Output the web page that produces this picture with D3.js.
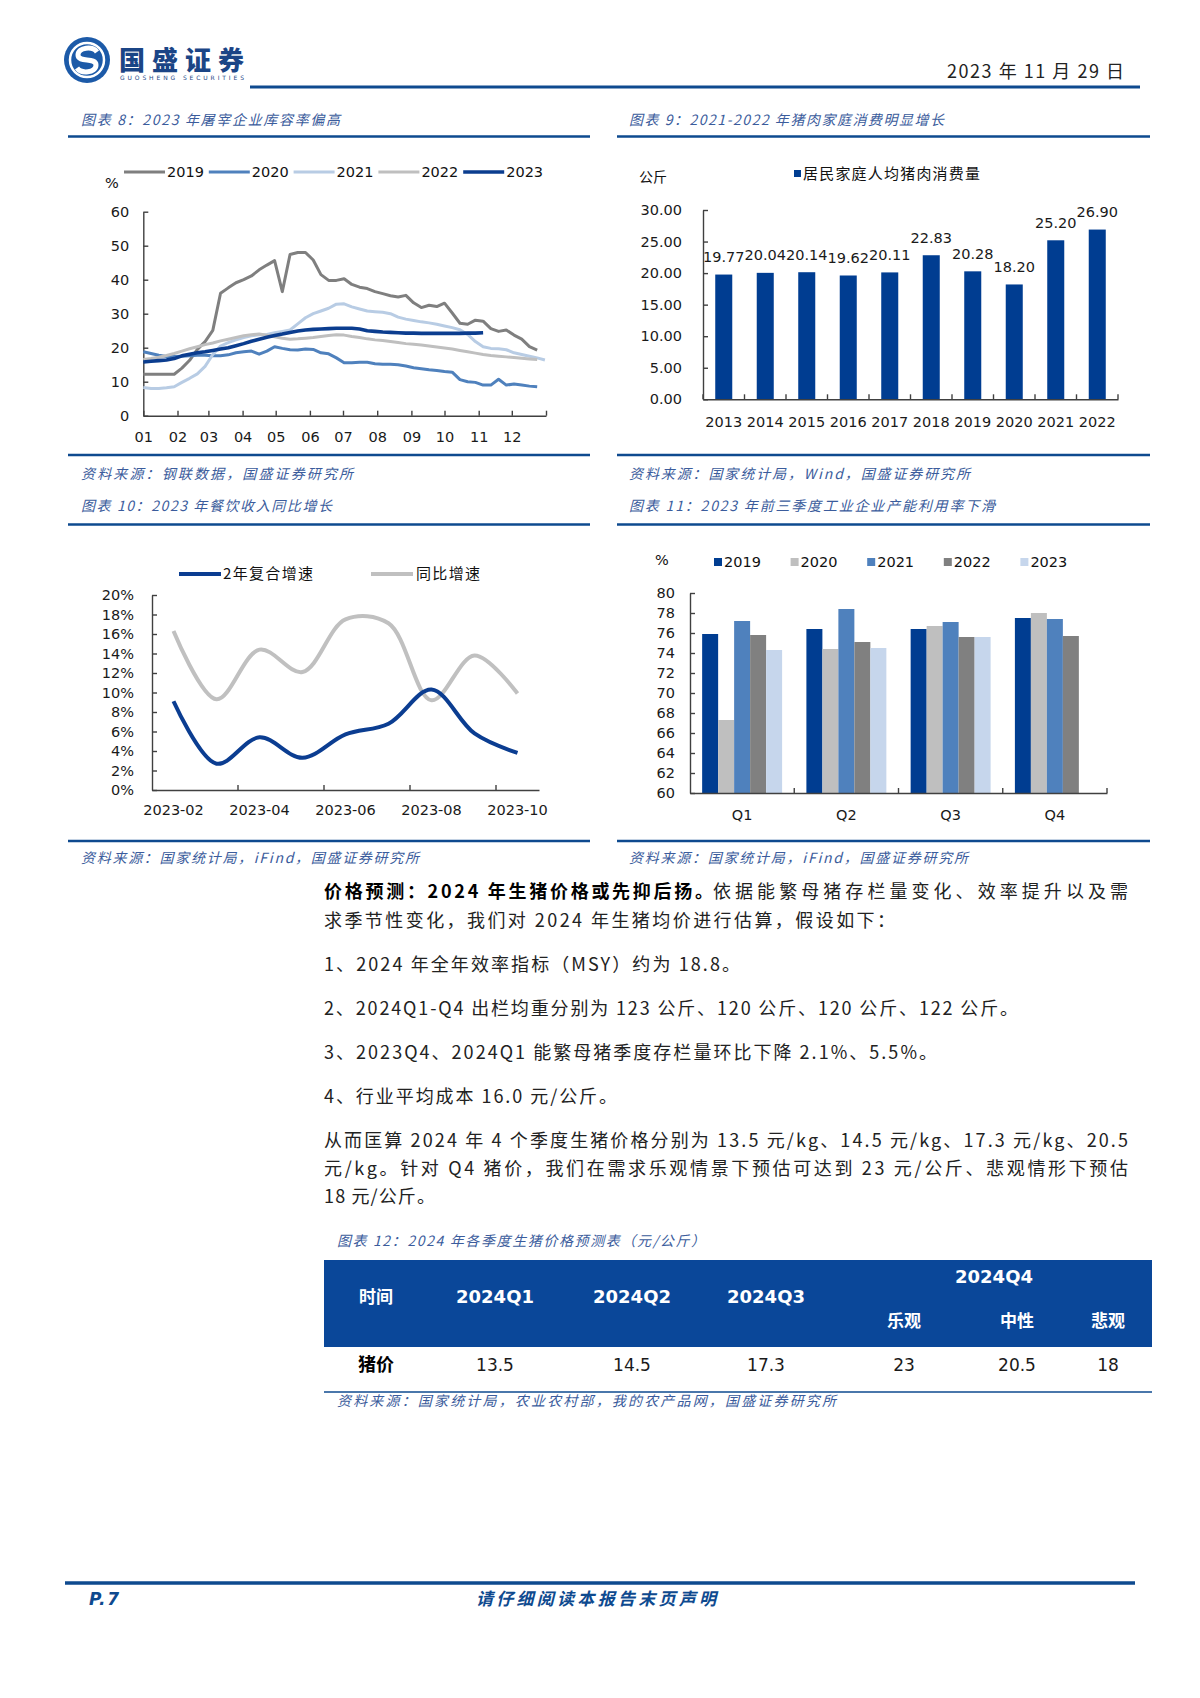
<!DOCTYPE html>
<html lang="zh">
<head>
<meta charset="UTF-8">
<title>国盛证券 - 2024 年生猪价格预测</title>
<script src="https://cdn.jsdelivr.net/npm/d3@7"></script>
<style>
  body { margin: 0; background: #fff; }
</style>
</head>
<body>
<svg id="page" width="1200" height="1698"></svg>
<script>
// ---------- data ----------
// 图表 8: weekly slaughter-house storage rate (%), one value per week from Jan 1
const storageYears = ["2019", "2020", "2021", "2022", "2023"];
const storage2019 = [12.2,12.2,12.2,12.2,12.2,14.0,16.3,19.5,21.8,25.1,36.0,37.6,39.1,40.0,41.1,42.9,44.3,45.6,36.5,47.4,48.0,48.0,45.8,41.5,39.8,39.8,40.3,38.6,37.8,37.4,36.5,35.9,35.3,34.9,35.4,33.2,31.8,32.5,32.1,33.1,30.2,27.2,26.9,28.1,27.8,25.6,24.8,25.2,23.7,22.5,20.3,19.3];
const storage2020 = [18.8,18.3,17.8,17.4,17.4,17.5,17.6,17.8,17.8,17.6,17.6,17.9,18.5,18.8,19.0,18.1,19.0,20.3,19.8,19.4,19.3,19.6,19.5,18.5,18.2,17.0,15.6,15.6,15.7,15.7,15.3,15.1,15.1,15.0,14.6,14.1,13.8,13.5,13.3,13.0,12.8,10.6,10.0,9.8,9.0,9.0,10.7,9.0,9.3,9.0,8.7,8.5];
const storage2021 = [8.3,8.0,8.0,8.2,8.5,9.8,11.0,12.3,14.5,18.0,20.5,21.5,22.3,23.0,23.5,23.8,23.9,24.4,24.8,25.2,27.0,28.8,30.0,30.8,31.6,32.8,32.9,32.0,31.4,30.8,30.6,30.4,30.0,29.0,28.4,28.0,27.6,27.3,26.9,26.4,25.9,25.3,23.9,21.8,20.3,19.8,19.7,19.4,18.5,18.0,17.5,17.0,16.4];
const storage2022 = [16.5,16.8,17.2,17.7,18.3,19.0,19.7,20.3,20.9,21.4,22.0,22.5,23.0,23.5,23.8,24.0,23.7,23.2,22.8,22.5,22.6,22.8,23.0,23.3,23.6,23.8,23.7,23.3,23.0,22.6,22.3,22.1,21.8,21.5,21.2,21.0,20.8,20.5,20.2,19.9,19.6,19.2,18.8,18.4,18.0,17.7,17.5,17.3,17.1,16.9,16.7,16.5];
const storage2023 = [15.8,16.0,16.2,16.4,16.8,17.6,18.1,18.5,18.8,19.2,19.6,20.0,20.6,21.2,21.9,22.5,23.1,23.6,24.0,24.5,24.9,25.2,25.4,25.5,25.6,25.7,25.7,25.7,25.5,25.0,24.8,24.6,24.5,24.4,24.3,24.3,24.2,24.2,24.2,24.2,24.2,24.2,24.3,24.3,24.4];

// 图表 9: household pork consumption per capita (kg)
const porkYears = ["2013","2014","2015","2016","2017","2018","2019","2020","2021","2022"];
const porkConsumption = [19.77, 20.04, 20.14, 19.62, 20.11, 22.83, 20.28, 18.20, 25.20, 26.90];

// 图表 10: catering revenue growth (%)
const cateringMonths = ["2023-02","2023-03","2023-04","2023-05","2023-06","2023-07","2023-08","2023-09","2023-10"];
const cagr2y = [9.1, 2.7, 5.4, 3.3, 5.7, 6.8, 10.3, 5.8, 3.8];
const yoy = [16.3, 9.3, 14.4, 12.1, 17.5, 17.1, 9.2, 13.8, 9.9];

// 图表 11: industrial capacity utilisation (%)
const quarters = ["Q1", "Q2", "Q3", "Q4"];
const utilYears = ["2019", "2020", "2021", "2022", "2023"];
const util2019 = [75.9, 76.4, 76.4, 77.5];
const util2020 = [67.3, 74.4, 76.7, 78.0];
const util2021 = [77.2, 78.4, 77.1, 77.4];
const util2022 = [75.8, 75.1, 75.6, 75.7];
const util2023 = [74.3, 74.5, 75.6, null];

// 图表 12: price forecast table
const tableHead = ["时间", "2024Q1", "2024Q2", "2024Q3", "2024Q4"];
const q4Cases = ["乐观", "中性", "悲观"];
const tableRow = ["猪价", "13.5", "14.5", "17.3", "23", "20.5", "18"];

// ---------- helpers ----------
const svg = d3.select("#page");
const BLUE = "#0e4a8f";
const CAP = "#3b5c9c";
const AXIS = "#404040";
const SANS = '"DejaVu Sans", sans-serif';
const CJK = '"Noto Sans CJK SC", sans-serif';
const NUM = 14.5; // chart number size

function label(g, x, y, s, o = {}) {
  const t = g.append("text").attr("x", x).attr("y", y).text(s)
    .attr("font-family", o.family || CJK)
    .attr("font-size", o.size || 14)
    .attr("fill", o.fill || "#111");
  if (o.anchor) t.attr("text-anchor", o.anchor);
  if (o.weight) t.attr("font-weight", o.weight);
  if (o.italic) t.attr("font-style", "italic");
  if (o.len) t.attr("textLength", o.len).attr("lengthAdjust", o.adjust || "spacing");
  return t;
}

function rule(x1, x2, y, w = 2.5, c = BLUE) {
  svg.append("line").attr("x1", x1).attr("x2", x2).attr("y1", y).attr("y2", y)
    .attr("stroke", c).attr("stroke-width", w);
}

function styleAxis(g) {
  g.attr("font-family", SANS).attr("font-size", NUM);
  g.select(".domain").attr("stroke", AXIS).attr("stroke-width", 1.4);
  g.selectAll(".tick line").attr("stroke", AXIS).attr("stroke-width", 1.4);
  g.selectAll(".tick text").attr("fill", "#1a1a1a");
}

// ---------- header ----------
const logo = svg.append("g").attr("transform", "translate(87,60)");
logo.append("circle").attr("r", 23).attr("fill", "#1c5aa8");
logo.append("circle").attr("r", 17).attr("fill", "none").attr("stroke", "#fff").attr("stroke-width", 2.5);
logo.append("path")
  .attr("d", "M10,-8 C6,-14 -9,-13 -9,-5 C-9,3 9,-3 9,5 C9,13 -6,14 -10,8")
  .attr("fill", "none").attr("stroke", "#fff").attr("stroke-width", 5);
label(svg, 119, 70, "国盛证券", {size: 26, weight: 900, fill: "#1b4586", len: 125});
label(svg, 120, 80, "GUOSHENG SECURITIES", {family: SANS, size: 6, fill: "#1b4586", len: 124});
label(svg, 947, 78, "2023 年 11 月 29 日", {size: 18, fill: "#222", len: 177});
rule(250, 1140, 87, 3);

// ---------- captions & rules ----------
const captionStyle = {size: 14, italic: true, fill: CAP};
label(svg, 81, 125, "图表 8：2023 年屠宰企业库容率偏高", {...captionStyle, len: 259});
label(svg, 629, 125, "图表 9：2021-2022 年猪肉家庭消费明显增长", {...captionStyle, len: 315});
rule(68, 590, 136.5); rule(617, 1150, 136.5);
rule(68, 590, 455); rule(617, 1150, 455);
label(svg, 81, 479, "资料来源：钢联数据，国盛证券研究所", {...captionStyle, len: 272});
label(svg, 629, 479, "资料来源：国家统计局，Wind，国盛证券研究所", {...captionStyle, len: 341});
label(svg, 81, 511, "图表 10：2023 年餐饮收入同比增长", {...captionStyle, len: 251});
label(svg, 629, 511, "图表 11：2023 年前三季度工业企业产能利用率下滑", {...captionStyle, len: 366});
rule(68, 590, 524.5); rule(617, 1150, 524.5);
rule(68, 590, 841); rule(617, 1150, 841);
label(svg, 81, 863, "资料来源：国家统计局，iFind，国盛证券研究所", {...captionStyle, len: 338});
label(svg, 629, 863, "资料来源：国家统计局，iFind，国盛证券研究所", {...captionStyle, len: 339});

// ---------- chart 8: storage rate lines ----------
{
  const g = svg.append("g");
  const start = new Date(2023, 0, 1);
  const x = d3.scaleTime().domain([start, new Date(2024, 0, 1)]).range([143.3, 546]);
  const y = d3.scaleLinear().domain([0, 60]).range([415.7, 211.7]);
  const series = [storage2019, storage2020, storage2021, storage2022, storage2023];
  const colors = ["#7f7f7f", "#4f81bd", "#b8cce4", "#bfbfbf", "#0b3d8f"];
  const widths = [3, 3, 3, 3, 3.6];

  const xa = g.append("g").attr("transform", "translate(0,415.7)")
    .call(d3.axisBottom(x).ticks(d3.timeMonth.every(1))
      .tickFormat(d => d.getFullYear() === 2023 ? d3.timeFormat("%m")(d) : "")
      .tickSize(-5).tickSizeOuter(0));
  styleAxis(xa);
  xa.selectAll(".tick text").attr("y", 26.3).attr("dy", null);

  const ya = g.append("g").attr("transform", "translate(143.3,0)")
    .call(d3.axisLeft(y).tickValues(d3.range(0, 61, 10)).tickSize(-5).tickSizeOuter(0).tickPadding(14));
  styleAxis(ya);

  const line = d3.line()
    .x((d, i) => x(d3.timeDay.offset(start, 7 * i)))
    .y(d => y(d));
  series.forEach((s, k) => {
    g.append("path").datum(s).attr("d", line)
      .attr("fill", "none").attr("stroke", colors[k]).attr("stroke-width", widths[k])
      .attr("stroke-linejoin", "round");
  });

  label(g, 112, 188, "%", {family: SANS, size: NUM, anchor: "middle"});
  storageYears.forEach((name, i) => {
    const lx = 124 + i * 84.8;
    g.append("line").attr("x1", lx).attr("x2", lx + 41).attr("y1", 172).attr("y2", 172)
      .attr("stroke", colors[i]).attr("stroke-width", widths[i]);
    label(g, lx + 43, 177, name, {family: SANS, size: NUM});
  });
}

// ---------- chart 9: pork consumption bars ----------
{
  const g = svg.append("g");
  const x = d3.scaleBand().domain(porkYears).range([703, 1118]).paddingInner(0.59).paddingOuter(0.295);
  const y = d3.scaleLinear().domain([0, 30]).range([399.3, 210]);

  g.selectAll("rect").data(porkConsumption).join("rect")
    .attr("x", (d, i) => x(porkYears[i]))
    .attr("width", x.bandwidth())
    .attr("y", d => y(d))
    .attr("height", d => y(0) - y(d))
    .attr("fill", "#003d91");

  const xa = g.append("g").attr("transform", "translate(0,399.3)")
    .call(d3.axisBottom(x).tickSize(0).tickSizeOuter(0));
  styleAxis(xa);
  xa.selectAll(".tick text").attr("y", 28).attr("dy", null);
  d3.range(porkYears.length + 1).forEach(i => {
    const bx = x(porkYears[0]) + x.bandwidth() / 2 - x.step() / 2 + i * x.step();
    g.append("line").attr("x1", bx).attr("x2", bx).attr("y1", 399.3).attr("y2", 394.3)
      .attr("stroke", AXIS).attr("stroke-width", 1.4);
  });

  const ya = g.append("g").attr("transform", "translate(703,0)")
    .call(d3.axisLeft(y).tickValues(d3.range(0, 31, 5)).tickFormat(d => d.toFixed(2))
      .tickSize(-5).tickSizeOuter(0).tickPadding(21));
  styleAxis(ya);

  g.selectAll(".val").data(porkConsumption).join("text").attr("class", "val")
    .attr("x", (d, i) => x(porkYears[i]) + x.bandwidth() / 2)
    .attr("y", d => y(d) - 12.5)
    .attr("text-anchor", "middle")
    .attr("font-family", SANS).attr("font-size", NUM).attr("fill", "#1a1a1a")
    .text(d => d.toFixed(2));

  label(g, 639, 182, "公斤", {size: 14});
  g.append("rect").attr("x", 794).attr("y", 170).attr("width", 7).attr("height", 7).attr("fill", "#003d91");
  label(g, 803, 179, "居民家庭人均猪肉消费量", {size: 15, len: 177});
}

// ---------- chart 10: catering revenue lines ----------
{
  const g = svg.append("g");
  const x = d3.scaleBand().domain(cateringMonths).range([152, 539]);
  const y = d3.scaleLinear().domain([0, 20]).range([790, 595]);
  const cx = d => x(d) + x.bandwidth() / 2;

  const xa = g.append("g").attr("transform", "translate(0,790)")
    .call(d3.axisBottom(x).tickValues(cateringMonths.filter((d, i) => i % 2 === 0))
      .tickSize(0).tickSizeOuter(0));
  styleAxis(xa);
  xa.selectAll(".tick text").attr("y", 25).attr("dy", null);
  cateringMonths.forEach((m, i) => {
    if (i > 0 && i % 2 === 0) {
      g.append("line").attr("x1", x(m)).attr("x2", x(m)).attr("y1", 790).attr("y2", 785)
        .attr("stroke", AXIS).attr("stroke-width", 1.4);
    }
  });

  const ya = g.append("g").attr("transform", "translate(152,0)")
    .call(d3.axisLeft(y).tickValues(d3.range(0, 21, 2)).tickFormat(d => d + "%")
      .tickSize(-5).tickSizeOuter(0).tickPadding(18));
  styleAxis(ya);

  const line = d3.line().x((d, i) => cx(cateringMonths[i])).y(d => y(d)).curve(d3.curveCatmullRom.alpha(0.5));
  g.append("path").datum(yoy).attr("d", line).attr("fill", "none")
    .attr("stroke", "#c0c0c0").attr("stroke-width", 4);
  g.append("path").datum(cagr2y).attr("d", line).attr("fill", "none")
    .attr("stroke", "#0b3d91").attr("stroke-width", 4);

  g.append("line").attr("x1", 179).attr("x2", 221).attr("y1", 574).attr("y2", 574)
    .attr("stroke", "#0b3d91").attr("stroke-width", 4);
  label(g, 223, 579, "2年复合增速", {size: 15, len: 90});
  g.append("line").attr("x1", 371).attr("x2", 413).attr("y1", 574).attr("y2", 574)
    .attr("stroke", "#c0c0c0").attr("stroke-width", 4);
  label(g, 416, 579, "同比增速", {size: 15, len: 64});
}

// ---------- chart 11: capacity utilisation bars ----------
{
  const g = svg.append("g");
  const x = d3.scaleBand().domain(quarters).range([690, 1107]).paddingInner(0.233).paddingOuter(0.1165);
  const inner = d3.scaleBand().domain(utilYears).range([0, x.bandwidth()]);
  const y = d3.scaleLinear().domain([60, 80]).range([793, 593]);
  const series = [util2019, util2020, util2021, util2022, util2023];
  const colors = ["#003d91", "#bfbfbf", "#4f81bd", "#808080", "#c6d6ec"];

  series.forEach((s, k) => {
    g.selectAll(".b" + k).data(s).join("rect").attr("class", "b" + k)
      .filter(d => d !== null)
      .attr("x", (d, i) => x(quarters[i]) + inner(utilYears[k]))
      .attr("width", inner.bandwidth())
      .attr("y", d => y(d))
      .attr("height", d => y(60) - y(d))
      .attr("fill", colors[k]);
  });

  const xa = g.append("g").attr("transform", "translate(0,793)")
    .call(d3.axisBottom(x).tickSize(0).tickSizeOuter(0));
  styleAxis(xa);
  xa.selectAll(".tick text").attr("y", 27).attr("dy", null);
  d3.range(1, quarters.length + 1).forEach(i => {
    const bx = x(quarters[0]) + x.bandwidth() / 2 - x.step() / 2 + i * x.step();
    g.append("line").attr("x1", bx).attr("x2", bx).attr("y1", 793).attr("y2", 788)
      .attr("stroke", AXIS).attr("stroke-width", 1.4);
  });

  const ya = g.append("g").attr("transform", "translate(690,0)")
    .call(d3.axisLeft(y).tickValues(d3.range(60, 81, 2)).tickSize(-5).tickSizeOuter(0).tickPadding(15));
  styleAxis(ya);

  label(g, 662, 565, "%", {family: SANS, size: NUM, anchor: "middle"});
  utilYears.forEach((name, i) => {
    const lx = 714 + i * 76.6;
    g.append("rect").attr("x", lx).attr("y", 558).attr("width", 8).attr("height", 8).attr("fill", colors[i]);
    label(g, lx + 10, 567, name, {family: SANS, size: NUM});
  });
}

// ---------- body text ----------
const bodyLines = [
  {y: 927, s: "求季节性变化，我们对 2024 年生猪均价进行估算，假设如下：", len: 571},
  {y: 971, s: "1、2024 年全年效率指标（MSY）约为 18.8。", len: 416},
  {y: 1015, s: "2、2024Q1-Q4 出栏均重分别为 123 公斤、120 公斤、120 公斤、122 公斤。", len: 694},
  {y: 1059, s: "3、2023Q4、2024Q1 能繁母猪季度存栏量环比下降 2.1%、5.5%。", len: 613},
  {y: 1103, s: "4、行业平均成本 16.0 元/公斤。", len: 293},
  {y: 1147, s: "从而匡算 2024 年 4 个季度生猪价格分别为 13.5 元/kg、14.5 元/kg、17.3 元/kg、20.5", len: 804},
  {y: 1175, s: "元/kg。针对 Q4 猪价，我们在需求乐观情景下预估可达到 23 元/公斤、悲观情形下预估", len: 804},
  {y: 1203, s: "18 元/公斤。", len: 111}
];
label(svg, 324, 898, "价格预测：2024 年生猪价格或先抑后扬。", {size: 18, weight: 700, fill: "#000", len: 389});
label(svg, 713, 898, "依据能繁母猪存栏量变化、效率提升以及需", {size: 18, fill: "#222", len: 415});
bodyLines.forEach(l => label(svg, 324, l.y, l.s, {size: 18, fill: "#222", len: l.len}));

// ---------- table ----------
label(svg, 337, 1246, "图表 12：2024 年各季度生猪价格预测表（元/公斤）", {...captionStyle, len: 368});
svg.append("rect").attr("x", 324).attr("y", 1260).attr("width", 828).attr("height", 87).attr("fill", "#0a4799");
const colX = [376, 495, 632, 766, 994];
const caseX = [904, 1017, 1108];
tableHead.forEach((h, i) => {
  const cjk = i === 0;
  label(svg, colX[i], i === 4 ? 1283 : 1303, h, {
    family: cjk ? CJK : SANS, size: cjk ? 17 : 18, weight: 700, fill: "#fff", anchor: "middle"
  });
});
q4Cases.forEach((c, i) => label(svg, caseX[i], 1327, c, {size: 17, weight: 700, fill: "#fff", anchor: "middle"}));
const rowX = colX.slice(0, 4).concat(caseX);
tableRow.forEach((v, i) => {
  label(svg, rowX[i], 1371, v, i === 0
    ? {size: 18, weight: 700, fill: "#000", anchor: "middle"}
    : {family: SANS, size: 17, fill: "#1a1a1a", anchor: "middle"});
});
rule(324, 1152, 1392, 1.5);
label(svg, 337, 1406, "资料来源：国家统计局，农业农村部，我的农产品网，国盛证券研究所", {...captionStyle, len: 499});

// ---------- footer ----------
rule(65, 1135, 1583, 3.5);
label(svg, 89, 1605, "P.7", {family: SANS, size: 17, weight: 700, italic: true, fill: BLUE, len: 30});
label(svg, 476, 1605, "请仔细阅读本报告末页声明", {size: 17, weight: 700, italic: true, fill: BLUE, len: 240});
</script>
</body>
</html>
